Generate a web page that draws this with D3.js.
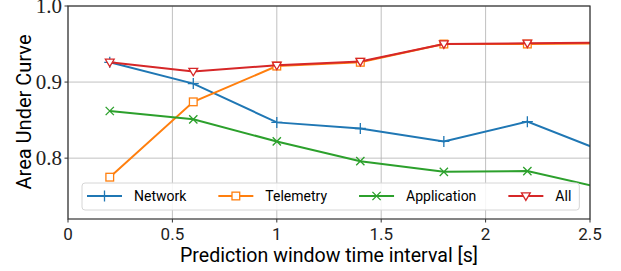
<!DOCTYPE html>
<html>
<head>
<meta charset="utf-8">
<script src="https://cdn.jsdelivr.net/npm/d3@7"></script>
<style>
  body { margin: 0; background: #fff; }
  svg { display: block; }
</style>
</head>
<body>
<svg id="chart" width="621" height="271"></svg>
<script>
// window lengths in seconds (last one falls just past the axis end)
const windows = [0.2, 0.6, 1.0, 1.4, 1.8, 2.2, 2.6]

const network     = [0.926, 0.898, 0.847, 0.839, 0.822, 0.848, 0.805]
const telemetry   = [0.775, 0.874, 0.921, 0.926, 0.950, 0.950, 0.951]
const application = [0.862, 0.851, 0.822, 0.796, 0.782, 0.783, 0.758]
const all         = [0.926, 0.914, 0.922, 0.927, 0.950, 0.951, 0.952]

const seriesNames = ["Network", "Telemetry", "Application", "All"]
const xTicks = [0, 0.5, 1, 1.5, 2, 2.5]
const xTickLabels = ["0", "0.5", "1", "1.5", "2", "2.5"]
const yTicks = [0.8, 0.9, 1.0]
const yTickLabels = ["0.8", "0.9", "1.0"]

const colors = ["#1f77b4", "#ff7f0e", "#2ca02c", "#d62728"]
const markers = ["plus", "square", "cross", "tri"]

let svg = d3.select("#chart")
let m = {left: 68, right: 590, top: 6, bottom: 219}

let x = d3.scaleLinear().domain([0, 2.5]).range([m.left, m.right])
let y = d3.scaleLinear().domain([0.72, 1.0]).range([m.bottom, m.top])

let sans = "Roboto, Lato, 'DejaVu Sans', sans-serif"
let serif = "'Liberation Serif', 'DejaVu Serif', serif"

svg.append("defs").append("clipPath").attr("id", "plot")
  .append("rect")
    .attr("x", m.left).attr("y", m.top)
    .attr("width", m.right - m.left).attr("height", m.bottom - m.top)

// grid
let grid = svg.append("g")
grid.selectAll("line.gx").data(xTicks).enter().append("line")
  .attr("x1", d => x(d)).attr("x2", d => x(d))
  .attr("y1", m.top).attr("y2", m.bottom)
  .attr("stroke", "#b0b0b0").attr("stroke-width", 0.8)
grid.selectAll("line.gy").data(yTicks).enter().append("line")
  .attr("x1", m.left).attr("x2", m.right)
  .attr("y1", d => y(d)).attr("y2", d => y(d))
  .attr("stroke", "#b0b0b0").attr("stroke-width", 0.8)

// series
let data = [network, telemetry, application, all]
let line = d3.line().x((d, i) => x(windows[i])).y(d => y(d))

function marker(g, type, color, size){
  let s = size
  if (type == "plus") {
    g.append("path").attr("d", `M${-s},0H${s}M0,${-s}V${s}`)
      .attr("stroke", color).attr("stroke-width", 1.3).attr("fill", "none")
  } else if (type == "cross") {
    let k = s * 0.75
    g.append("path").attr("d", `M${-k},${-k}L${k},${k}M${-k},${k}L${k},${-k}`)
      .attr("stroke", color).attr("stroke-width", 1.3).attr("fill", "none")
  } else if (type == "square") {
    let k = s * 0.7
    g.append("rect").attr("x", -k).attr("y", -k).attr("width", 2*k).attr("height", 2*k)
      .attr("stroke", color).attr("stroke-width", 1.3).attr("fill", "white")
  } else {
    let k = s * 0.8
    g.append("path").attr("d", `M${-k},${-k*0.7}L${k},${-k*0.7}L0,${k}Z`)
      .attr("stroke", color).attr("stroke-width", 1.3).attr("fill", "white")
  }
}

let plot = svg.append("g").attr("clip-path", "url(#plot)")
data.forEach((vals, si) => {
  let g = plot.append("g")
  g.append("path").datum(vals)
    .attr("d", line)
    .attr("fill", "none")
    .attr("stroke", colors[si])
    .attr("stroke-width", 2)
  vals.forEach((v, i) => {
    let mg = g.append("g").attr("transform", `translate(${x(windows[i])},${y(v)})`)
    marker(mg, markers[si], colors[si], 5.5)
  })
})

// frame
svg.append("rect")
  .attr("x", m.left).attr("y", m.top)
  .attr("width", m.right - m.left).attr("height", m.bottom - m.top)
  .attr("fill", "none").attr("stroke", "#333").attr("stroke-width", 1.2)

// ticks
svg.selectAll("line.xk").data(xTicks).enter().append("line")
  .attr("x1", d => x(d)).attr("x2", d => x(d))
  .attr("y1", m.bottom).attr("y2", m.bottom + 3.5)
  .attr("stroke", "#333").attr("stroke-width", 1)
svg.selectAll("line.yk").data(yTicks).enter().append("line")
  .attr("x1", m.left - 3.5).attr("x2", m.left)
  .attr("y1", d => y(d)).attr("y2", d => y(d))
  .attr("stroke", "#333").attr("stroke-width", 1)

// tick labels
svg.selectAll("text.xt").data(xTicks).enter().append("text")
  .attr("x", d => x(d)).attr("y", 240)
  .attr("text-anchor", "middle")
  .attr("font-family", sans).attr("font-size", 17)
  .attr("fill", "#222")
  .text((d, i) => xTickLabels[i])
svg.selectAll("text.yt").data(yTicks).enter().append("text")
  .attr("x", m.left - 6).attr("y", d => y(d) + 7)
  .attr("text-anchor", "end")
  .attr("font-family", serif).attr("font-size", 21)
  .attr("fill", "#222")
  .text((d, i) => yTickLabels[i])

// axis titles
svg.append("text")
  .attr("x", (m.left + m.right) / 2).attr("y", 262)
  .attr("text-anchor", "middle")
  .attr("font-family", sans).attr("font-size", 20)
  .attr("textLength", 298).attr("lengthAdjust", "spacingAndGlyphs")
  .text("Prediction window time interval [s]")
svg.append("text")
  .attr("transform", "translate(31,112) rotate(-90)")
  .attr("text-anchor", "middle")
  .attr("font-family", sans).attr("font-size", 20)
  .attr("textLength", 155).attr("lengthAdjust", "spacingAndGlyphs")
  .text("Area Under Curve")

// legend
let leg = svg.append("g")
let box = leg.append("rect")
  .attr("x", 82).attr("y", 183).attr("height", 27).attr("rx", 3)
  .attr("fill", "white").attr("fill-opacity", 0.85)
  .attr("stroke", "#d6d6d6").attr("stroke-width", 1)
let cx = 87
seriesNames.forEach((name, si) => {
  let ly = 196
  leg.append("line")
    .attr("x1", cx).attr("x2", cx + 35).attr("y1", ly).attr("y2", ly)
    .attr("stroke", colors[si]).attr("stroke-width", 2)
  marker(leg.append("g").attr("transform", `translate(${cx + 17.5},${ly})`), markers[si], colors[si], 5.5)
  let t = leg.append("text")
    .attr("x", cx + 47).attr("y", ly + 5)
    .attr("font-family", sans).attr("font-size", 14)
    .text(name)
  cx = cx + 47 + t.node().getComputedTextLength() + 32
})
box.attr("width", cx - 32 + 8 - 82)
</script>
</body>
</html>
